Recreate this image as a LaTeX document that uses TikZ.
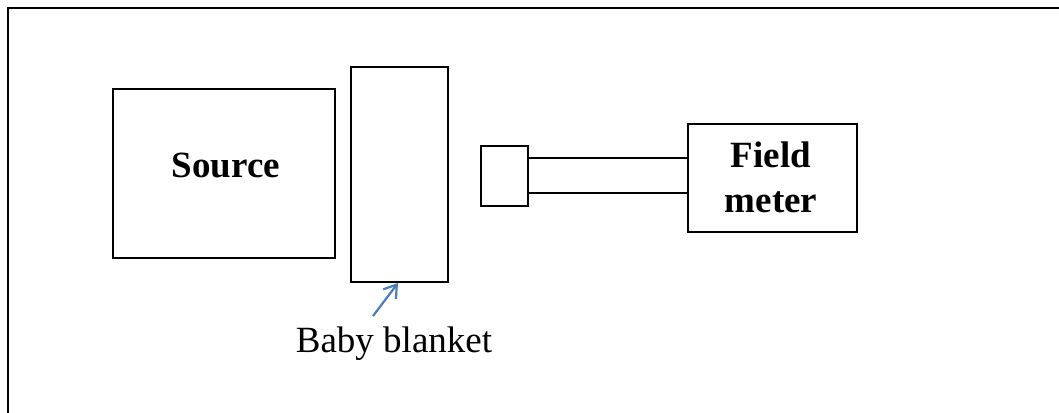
\documentclass[tikz,border=0pt]{standalone}
\usepackage{fontspec}
\setmainfont{Liberation Serif}
\usetikzlibrary{arrows.meta}
\definecolor{arrowblue}{RGB}{74,126,187}
\begin{document}
\begin{tikzpicture}[x=1pt,y=-1pt,
  box/.style={draw=black,line width=1.6pt,minimum width=0pt,minimum height=0pt,inner sep=0pt},
  lbl/.style={font=\fontsize{37}{45}\selectfont\bfseries,align=center},
  wire/.style={draw=black,line width=1.6pt}]
\useasboundingbox (0,0) rectangle (1059,412);
\clip (0,0) rectangle (1059,412);
\draw[line width=2pt] (8,8) rectangle (1080,430);
\draw[box] (113,89) rectangle (335,258);
\node[lbl,anchor=base] (source) at (226,177) {Source};
\draw[box] (351,67) rectangle (448,282);
\coordinate (blanketS) at (398,283);
\draw[box] (481,146) rectangle (528,206);
\coordinate (probeA) at (528,158);
\coordinate (probeB) at (528,193);
\draw[box] (688,124) rectangle (857,232);
\coordinate (meterA) at (688,158);
\coordinate (meterB) at (688,193);
\node[lbl,anchor=base] (field) at (771,167) {Field};
\node[lbl,anchor=base] (meter) at (771,212) {meter};
\draw[wire] (probeA) -- (meterA);
\draw[wire] (probeB) -- (meterB);
\node[font=\fontsize{37}{45}\selectfont,anchor=base] (baby) at (394,352) {Baby blanket};
\coordinate (tail) at (373,316);
\draw[arrowblue,line width=2.2pt,-{Straight Barb[length=12pt,width=16pt]}] (tail) -- (blanketS);
\end{tikzpicture}
\end{document}
